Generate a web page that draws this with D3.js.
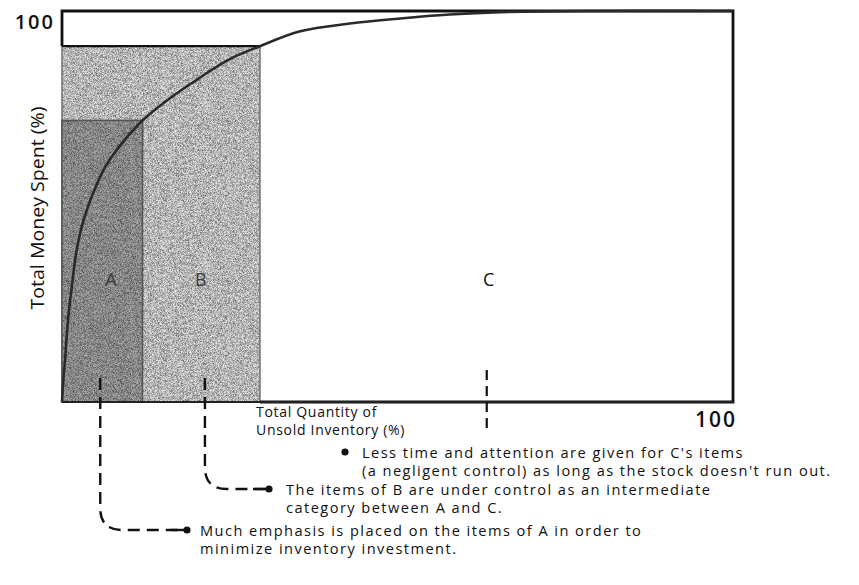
<!DOCTYPE html>
<html>
<head>
<meta charset="utf-8">
<script src="https://cdn.jsdelivr.net/npm/d3@7"></script>
<style>
  body { margin: 0; background: #fff; }
  text { font-family: "Open Sans", "Noto Sans", sans-serif; }
</style>
</head>
<body>
<script>
// Cumulative ABC curve (% of quantity vs % of money)
const qtyPct   = [0, 0.15, 0.45, 0.9, 1.5, 2.2, 3.3, 4.9, 6.4, 8.3, 12, 16.1, 20.6, 25, 29.5, 35.5, 42.9, 50.4, 57.8, 65.3, 80, 100];
const moneyPct = [0, 4.4, 10.7, 21, 30, 39, 47, 54.5, 60, 64.8, 72, 77.7, 83, 87.7, 91, 94.8, 96.8, 98.1, 99.1, 99.7, 100, 100];

// Class boundaries (B drawn first, A on top)
const classes    = ['B', 'A'];
const classQty   = [29.5, 12];
const classMoney = [91, 72];

// Region labels
const labelText  = ['A', 'B', 'C'];
const labelQty   = [7.3, 20.7, 63.6];
const labelMoney = [31.5, 31.5, 31.5];

// Notes and where their leaders start
const noteQty = [5.7, 21.3, 63.3];
const noteLines = [
  ["Much emphasis is placed on the items of A in order to", "minimize inventory investment."],
  ["The items of B are under control as an intermediate", "category between A and C."],
  ["Less time and attention are given for C's items", "(a negligent control) as long as the stock doesn't run out."]
];

const W = 859, H = 585;
const svg = d3.select("body").append("svg").attr("width", W).attr("height", H);

const x = d3.scaleLinear().domain([0, 100]).range([62, 733]);
const y = d3.scaleLinear().domain([0, 100]).range([402, 11]);

// scanned grain
const defs = svg.append("defs");
const f = defs.append("filter").attr("id", "grain").attr("x", 0).attr("y", 0).attr("width", "100%").attr("height", "100%");
f.append("feTurbulence").attr("type", "fractalNoise").attr("baseFrequency", 1.6).attr("numOctaves", 1).attr("seed", 4);
f.append("feColorMatrix").attr("type", "matrix").attr("values", "0 0 0 0 0  0 0 0 0 0  0 0 0 0 0  1.3 0 0 0 -0.45");
f.append("feComposite").attr("in2", "SourceGraphic").attr("operator", "in");

const fills = {A: "#a8a8a8", B: "#e2e2e2"};
const borders = {A: "#555", B: "#777"};

classes.forEach((c, i) => {
  const rx = x(0), ry = y(classMoney[i]), rw = x(classQty[i]) - x(0), rh = y(0) - y(classMoney[i]);
  svg.append("rect").attr("x", rx).attr("y", ry).attr("width", rw).attr("height", rh)
    .attr("fill", fills[c]);
  svg.append("rect").attr("x", rx).attr("y", ry).attr("width", rw).attr("height", rh)
    .attr("fill", "#000").attr("filter", "url(#grain)");
  svg.append("rect").attr("x", rx).attr("y", ry).attr("width", rw).attr("height", rh)
    .attr("fill", "none").attr("stroke", borders[c]).attr("stroke-width", 1.6);
});
// black top edge of B
svg.append("line").attr("x1", x(0)).attr("x2", x(classQty[0])).attr("y1", y(classMoney[0])).attr("y2", y(classMoney[0]))
  .attr("stroke", "#111").attr("stroke-width", 2.2);

// frame
svg.append("path")
  .attr("d", `M${x(0)},${y(classMoney[0])} V${y(100)} H${x(100)} V${y(0)} H${x(classQty[0])}`)
  .attr("fill", "none").attr("stroke", "#111").attr("stroke-width", 2.8);
svg.append("line").attr("x1", x(0)).attr("x2", x(100)).attr("y1", y(0)).attr("y2", y(0))
  .attr("stroke", "#222").attr("stroke-width", 2.2);

// curve
const pts = qtyPct.map((q, i) => [q, moneyPct[i]]);
svg.append("path").datum(pts)
  .attr("d", d3.line().x(d => x(d[0])).y(d => y(d[1])).curve(d3.curveCatmullRom.alpha(0.5)))
  .attr("fill", "none").attr("stroke", "#2a2a2a").attr("stroke-width", 2.6);

// region labels
svg.selectAll("text.lab").data(labelText).join("text")
  .attr("class", "lab")
  .attr("x", (d, i) => x(labelQty[i])).attr("y", (d, i) => y(labelMoney[i]) + 7)
  .attr("text-anchor", "middle").attr("font-size", 18)
  .attr("fill", d => d === 'C' ? "#111" : "#3a3a3a")
  .text(d => d);

// axis end labels
svg.append("text").attr("x", 55).attr("y", 29).attr("text-anchor", "end")
  .attr("font-size", 20).attr("font-weight", 600).attr("letter-spacing", 2).attr("fill", "#111").text("100");
svg.append("text").attr("x", 737).attr("y", 427).attr("text-anchor", "end")
  .attr("font-size", 21).attr("font-weight", 600).attr("letter-spacing", 2).attr("fill", "#111").text("100");

// axis titles
svg.append("text").attr("transform", "translate(44,208) rotate(-90)")
  .attr("text-anchor", "middle").attr("font-size", 19).attr("fill", "#111")
  .attr("textLength", 203).attr("lengthAdjust", "spacingAndGlyphs")
  .text("Total Money Spent (%)");
const xt = svg.append("text").attr("font-size", 14).attr("letter-spacing", 0.7).attr("fill", "#111");
xt.append("tspan").attr("x", 256).attr("y", 417).text("Total Quantity of");
xt.append("tspan").attr("x", 256).attr("y", 435).text("Unsold Inventory (%)");

// leaders
const dash = "12,7";
const legY = [530, 489, 452];
const bulletX = [187, 269, 345];
const textX = [200, 286, 362];

[0, 1].forEach(i => {
  const lx = x(noteQty[i]), ly = legY[i];
  svg.append("path")
    .attr("d", `M${lx},378 V${ly - 22} Q${lx},${ly} ${lx + 22},${ly} H${bulletX[i] - 4}`)
    .attr("fill", "none").attr("stroke", "#111").attr("stroke-width", 2.4).attr("stroke-dasharray", dash);
  svg.append("line").attr("x1", bulletX[i] - 16).attr("x2", bulletX[i]).attr("y1", ly).attr("y2", ly)
    .attr("stroke", "#111").attr("stroke-width", 2.4);
});
svg.append("line").attr("x1", x(noteQty[2])).attr("x2", x(noteQty[2])).attr("y1", 370).attr("y2", 428)
  .attr("stroke", "#111").attr("stroke-width", 2.2).attr("stroke-dasharray", "10,6");

// bullets + notes
noteLines.forEach((lines, i) => {
  svg.append("circle").attr("cx", bulletX[i]).attr("cy", legY[i]).attr("r", 3.6).attr("fill", "#111");
  const t = svg.append("text").attr("font-size", 14.6).attr("letter-spacing", 1.45).attr("fill", "#111");
  lines.forEach((s, k) => {
    t.append("tspan").attr("x", textX[i]).attr("y", legY[i] + 5.5 + k * 18.5).text(s);
  });
});
</script>
</body>
</html>
